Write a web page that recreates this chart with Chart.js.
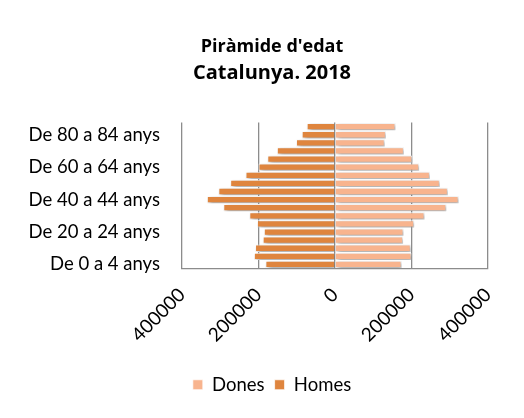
<!DOCTYPE html>
<html>
<head>
<meta charset="utf-8">
<script src="https://cdn.jsdelivr.net/npm/chart.js@4"></script>
<style>
html,body{margin:0;padding:0;background:#fff;}
#wrap{width:524px;height:418px;}
</style>
</head>
<body>
<div id="wrap"><canvas id="c" width="524" height="418"></canvas></div>
<script>
const categories = ["De 0 a 4 anys","De 5 a 9 anys","De 10 a 14 anys","De 15 a 19 anys","De 20 a 24 anys","De 25 a 29 anys","De 30 a 34 anys","De 35 a 39 anys","De 40 a 44 anys","De 45 a 49 anys","De 50 a 54 anys","De 55 a 59 anys","De 60 a 64 anys","De 65 a 69 anys","De 70 a 74 anys","De 75 a 79 anys","De 80 a 84 anys","De 85 anys i més"];
const dones = [174000,200000,198000,178000,179000,207000,234000,291000,323000,295000,274000,248000,220000,202000,180000,130000,133000,158000];
const homes = [182000,212000,209000,189000,186000,204000,224000,292000,335000,305000,274000,234000,200000,177000,152000,102000,87000,74000];
const xTicks = [-400000,-200000,0,200000,400000];
const shownLabels = ["De 0 a 4 anys","De 20 a 24 anys","De 40 a 44 anys","De 60 a 64 anys","De 80 a 84 anys"];

const FONT = "Lato";
const TFONT = "Open Sans";
const shadowPlugin = {
  id:'shadow',
  beforeDatasetsDraw(chart){const c=chart.ctx;c.save();c.shadowColor='rgba(0,0,0,0.4)';c.shadowBlur=4;c.shadowOffsetX=2;c.shadowOffsetY=2;},
  afterDatasetsDraw(chart){chart.ctx.restore();}
};

new Chart(document.getElementById('c'), {
  type:'bar',
  data:{
    labels:categories,
    datasets:[
      {label:'Dones',data:dones,backgroundColor:'#F8B48E',borderColor:'#ffffff',borderWidth:{top:1,bottom:1,left:0,right:1},borderSkipped:false},
      {label:'Homes',data:homes.map(v=>-v),backgroundColor:'#DF853E',borderColor:'#ffffff',borderWidth:{top:1,bottom:1,left:1,right:0},borderSkipped:false}
    ]
  },
  plugins:[shadowPlugin],
  options:{
    responsive:false,
    animation:false,
    indexAxis:'y',
    barPercentage:0.9,
    categoryPercentage:1,
    layout:{padding:{left:20,right:0,top:0,bottom:14}},
    plugins:{
      title:{display:true,text:"Piràmide d'edat",color:'#000',font:{family:TFONT,size:18,weight:'bold'},padding:{top:36,bottom:0}},
      subtitle:{display:true,text:"Catalunya. 2018",color:'#000',font:{family:TFONT,size:20,weight:'bold'},padding:{top:4,bottom:37}},
      legend:{position:'bottom',labels:{color:'#000',font:{family:FONT,size:18.5},boxWidth:10,boxHeight:10,padding:10}},
      tooltip:{enabled:false}
    },
    scales:{
      x:{
        stacked:true,min:-400000,max:400000,
        afterBuildTicks(axis){axis.ticks=xTicks.map(v=>({value:v}));},
        ticks:{color:'#000',font:{family:FONT,size:19},minRotation:45,maxRotation:45,padding:15,callback:v=>String(Math.abs(v))},
        grid:{color:'#8c8c8c',lineWidth:1.3,drawTicks:false},
        border:{color:'#8c8c8c',width:1.3},
        afterFit(axis){axis.height=97;}
      },
      y:{
        stacked:true,reverse:true,
        ticks:{color:'#000',font:{family:FONT,size:18.5},autoSkip:false,padding:22,
          callback:function(v){const l=this.getLabelForValue(v);return shownLabels.includes(l)?l:'';}},
        grid:{display:false,drawTicks:false},
        border:{display:false},
        afterFit(axis){axis.width=162;}
      },
      yRight:{
        type:'linear',position:'right',display:true,
        ticks:{display:false},grid:{display:false,drawTicks:false},border:{display:false},
        afterFit(axis){axis.width=36;}
      }
    }
  }
});
</script>
</body>
</html>
